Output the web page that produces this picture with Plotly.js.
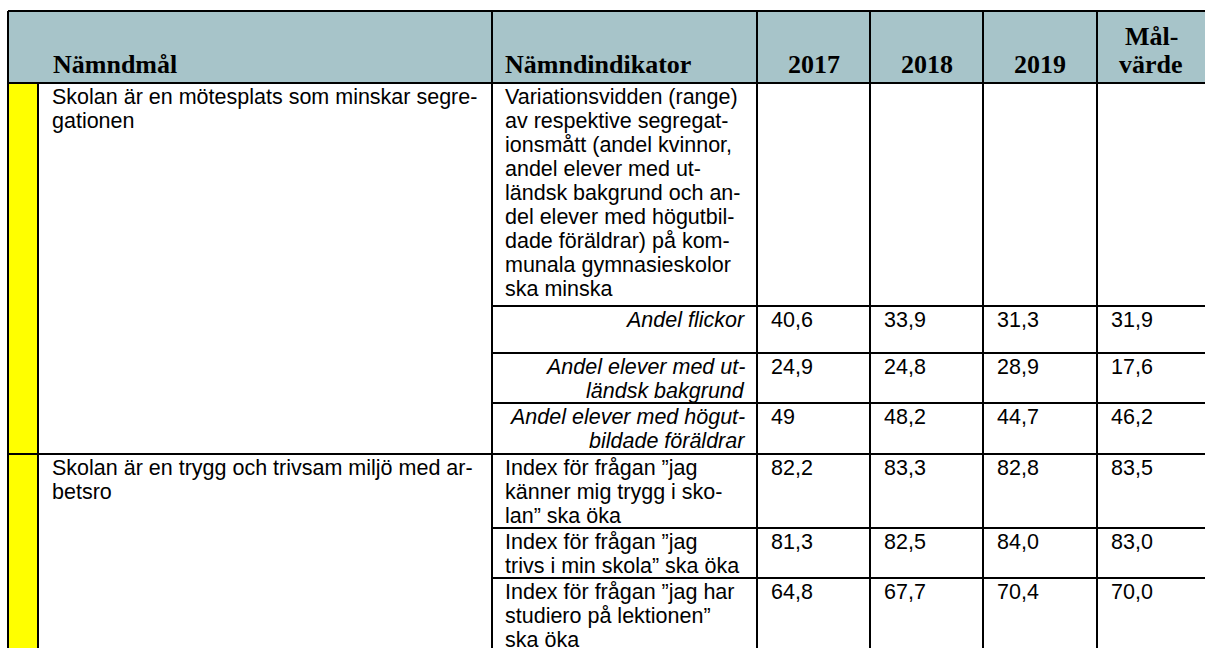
<!DOCTYPE html>
<html><head><meta charset="utf-8">
<script src="https://cdn.plot.ly/plotly-3.0.1.min.js"></script>
<style>html,body{margin:0;padding:0;background:#fff;overflow:hidden}</style>
</head><body><div id="chart" style="width:1205px;height:648px"></div>
<script>
// ---------- data ----------
const headerLabels = [["Nämndmål"], ["Nämndindikator"], ["2017"], ["2018"], ["2019"], ["Mål-", "värde"]];
const goals = [
  ["Skolan är en mötesplats som minskar segre-", "gationen"],
  ["Skolan är en trygg och trivsam miljö med ar-", "betsro"]
];
const indicatorGoal = [0, 0, 0, 0, 1, 1, 1];
const indicators = [
  ["Variationsvidden (range)", "av respektive segregat-", "ionsmått (andel kvinnor,", "andel elever med ut-", "ländsk bakgrund och an-", "del elever med högutbil-", "dade föräldrar) på kom-", "munala gymnasieskolor", "ska minska"],
  ["Andel flickor"],
  ["Andel elever med ut-", "ländsk bakgrund"],
  ["Andel elever med högut-", "bildade föräldrar"],
  ["Index för frågan ”jag", "känner mig trygg i sko-", "lan” ska öka"],
  ["Index för frågan ”jag", "trivs i min skola” ska öka"],
  ["Index för frågan ”jag har", "studiero på lektionen”", "ska öka"]
];
const subIndicator = [false, true, true, true, false, false, false];
const values2017 = ["", "40,6", "24,9", "49", "82,2", "81,3", "64,8"];
const values2018 = ["", "33,9", "24,8", "48,2", "83,3", "82,5", "67,7"];
const values2019 = ["", "31,3", "28,9", "44,7", "82,8", "84,0", "70,4"];
const targetValues = ["", "31,9", "17,6", "46,2", "83,5", "83,0", "70,0"];

// ---------- layout constants ----------
const W = 1205, H = 648;
const xEdges = [8, 38, 492, 757, 870, 983, 1097, 1240];
const headTop = 11, headBottom = 83;
const rowHeights = [223, 47, 50, 51, 74, 50, 130];
const headerColor = "#a7c4c9";
const yellow = "#ffff00";
const lineH = 24, padTop = 14;
const sansFont = "Liberation Sans, Arial, sans-serif";
const serifFont = "Liberation Serif, Times New Roman, serif";
const bodySize = 21.5, headSize = 26;

const rowEdges = [headBottom];
rowHeights.forEach(h => rowEdges.push(rowEdges[rowEdges.length - 1] + h));
const bottom = rowEdges[rowEdges.length - 1];
const right = xEdges[xEdges.length - 1];

const shapes = [];
const ann = [];
function line(x0, y0, x1, y1) {
  shapes.push({type: "line", xref: "x", yref: "y", x0, y0, x1, y1, line: {color: "#000", width: 2}, layer: "above"});
}
function rect(x0, y0, x1, y1, c) {
  shapes.push({type: "rect", xref: "x", yref: "y", x0, y0, x1, y1, fillcolor: c, line: {width: 0}, layer: "below"});
}
function txt(s, x, y, opts) {
  ann.push(Object.assign({text: s, x, y, xref: "x", yref: "y", showarrow: false, yanchor: "middle",
    xanchor: "left", font: {family: sansFont, size: bodySize, color: "#000"}}, opts || {}));
}

// backgrounds
rect(xEdges[0], headTop, right, headBottom, headerColor);
rect(xEdges[0], headBottom, xEdges[1], bottom, yellow);

// header text
const headSpan = [[0, 2], [2, 3], [3, 4], [4, 5], [5, 6], [6, 7]];
headerLabels.forEach((lines, i) => {
  const [a, b] = headSpan[i];
  const n = lines.length;
  lines.forEach((l, k) => {
    const yc = 64 - (n - 1 - k) * 28;
    const font = {family: serifFont, size: headSize, color: "#000"};
    if (i === 0) txt("<b>" + l + "</b>", xEdges[1] + 13, yc, {font});
    else if (i === 1) txt("<b>" + l + "</b>", xEdges[2] + 11, yc, {font});
    else {
      const xr = i === 5 ? W : xEdges[b];
      txt("<b>" + l + "</b>", (xEdges[a] + xr) / 2, yc, {font, xanchor: "center"});
    }
  });
});

// goals
goals.forEach((lines, g) => {
  const r0 = indicatorGoal.indexOf(g);
  lines.forEach((l, k) => txt(l, xEdges[1] + 12, rowEdges[r0] + padTop + k * lineH));
});

// indicators and values
const valueCols = [values2017, values2018, values2019, targetValues];
indicators.forEach((lines, r) => {
  const top = rowEdges[r];
  lines.forEach((l, k) => {
    const y = top + padTop + k * lineH;
    if (subIndicator[r]) txt("<i>" + l + "</i>", xEdges[3] - 10, y, {xanchor: "right"});
    else txt(l, xEdges[2] + 11, y);
  });
  valueCols.forEach((col, c) => {
    if (col[r] !== "") txt(col[r], xEdges[3 + c] + 12, top + padTop);
  });
});

// grid lines
line(xEdges[0], headTop, right, headTop);
line(xEdges[0], headBottom, right, headBottom);
line(xEdges[0], headTop, xEdges[0], bottom);
line(xEdges[1], headBottom, xEdges[1], bottom);
for (let i = 2; i <= 6; i++) line(xEdges[i], headTop, xEdges[i], bottom);
for (let r = 1; r < rowEdges.length - 1; r++) {
  const newGoal = indicatorGoal[r] !== indicatorGoal[r - 1];
  line(newGoal ? xEdges[0] : xEdges[2], rowEdges[r], right, rowEdges[r]);
}

const layout = {
  width: W, height: H,
  margin: {l: 0, r: 0, t: 0, b: 0},
  paper_bgcolor: "#fff", plot_bgcolor: "#fff",
  xaxis: {range: [0, W], visible: false, fixedrange: true},
  yaxis: {range: [H, 0], visible: false, fixedrange: true},
  shapes, annotations: ann, showlegend: false
};
Plotly.newPlot("chart", [], layout, {staticPlot: true, displayModeBar: false});
</script></body></html>
